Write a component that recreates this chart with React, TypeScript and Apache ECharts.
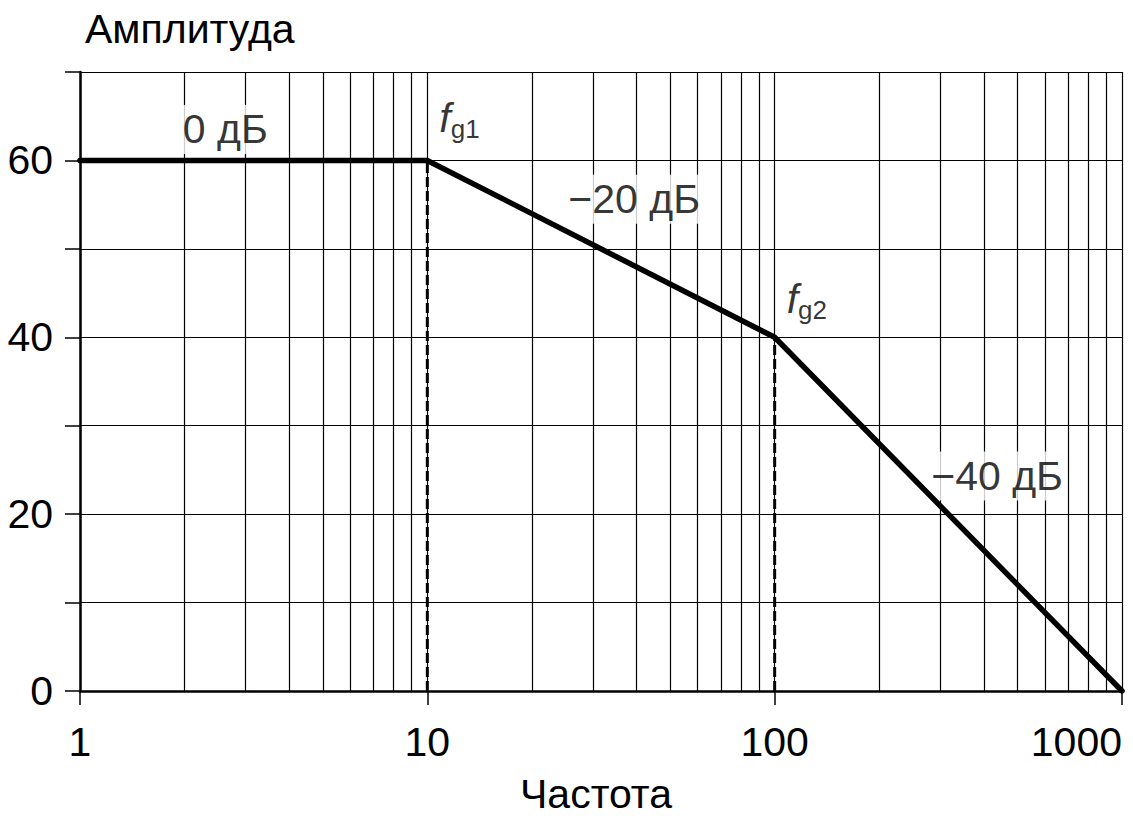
import React, { useEffect, useRef } from 'react';
import * as echarts from 'echarts';

// Bode amplitude plot (asymptotic)
const frequencies = [1, 10, 100, 1000];
const amplitudes = [60, 60, 40, 0];

// minor decade grid lines
const minorGrid = [2, 3, 4, 5, 6, 7, 8, 9, 20, 30, 40, 50, 60, 70, 80, 90, 200, 300, 400, 500, 600, 700, 800, 900];

// y tick labels shown
const yLabelValues = [0, 20, 40, 60];

// slope annotations
const slopeLabels = ['0 дБ', '−20 дБ', '−40 дБ'];
const slopeLabelFreq = [2.62, 39.4, 437];
const slopeLabelAmp = [63.5, 55.6, 24.3];

// corner frequencies
const cornerNames = ['g1', 'g2'];
const cornerFreq = [10, 100];
const cornerAmp = [60, 40];

const yAxisTitle = 'Амплитуда';
const xAxisTitle = 'Частота';

export default function App() {
  const ref = useRef<HTMLDivElement>(null);
  useEffect(() => {
    const chart = echarts.init(ref.current!, null, { renderer: 'svg' });
    const font = "'Liberation Sans', Arial, Helvetica, sans-serif";
    const black = '#000';
    const fs = 41;
    chart.setOption({
      animation: false,
      backgroundColor: '#fff',
      grid: { left: 80, right: 11, top: 72, bottom: 125, containLabel: false },
      xAxis: {
        type: 'log',
        logBase: 10,
        min: 1,
        max: 1000,
        axisLine: { show: true, lineStyle: { color: black, width: 2.5 } },
        axisTick: { show: true, length: 14, lineStyle: { color: black, width: 1.5 } },
        axisLabel: {
          color: black,
          fontSize: fs,
          fontFamily: font,
          margin: 30,
          alignMaxLabel: 'right',
          formatter: (v: number) => String(Math.round(v)),
        },
        splitLine: { show: true, lineStyle: { color: black, width: 1.2 } },
      },
      yAxis: {
        type: 'value',
        min: 0,
        max: 70,
        interval: 10,
        axisLine: { show: true, lineStyle: { color: black, width: 2.5 } },
        axisTick: { show: true, length: 15, lineStyle: { color: black, width: 1.5 } },
        axisLabel: {
          color: black,
          fontSize: fs,
          fontFamily: font,
          margin: 27,
          formatter: (v: number) => (yLabelValues.includes(v) ? String(v) : ''),
        },
        splitLine: { show: true, lineStyle: { color: black, width: 1.2 } },
      },
      graphic: [
        {
          type: 'text',
          x: 85,
          y: 29,
          style: { text: yAxisTitle, fontSize: fs, fontFamily: font, fill: black, align: 'left', verticalAlign: 'middle' },
        },
        {
          type: 'text',
          x: 596,
          y: 794,
          style: { text: xAxisTitle, fontSize: fs, fontFamily: font, fill: black, align: 'center', verticalAlign: 'middle' },
        },
      ],
      series: [
        {
          type: 'line',
          data: [[1, 0]],
          symbol: 'none',
          lineStyle: { opacity: 0 },
          z: 1,
          silent: true,
          markLine: {
            silent: true,
            symbol: ['none', 'none'],
            label: { show: false },
            lineStyle: { color: black, width: 1.2, type: 'solid' },
            data: minorGrid.map((v) => ({ xAxis: v })),
          },
        },
        ...cornerFreq.map((f, i) => ({
          type: 'line',
          data: [[f, 0], [f, cornerAmp[i]]],
          symbol: 'none',
          z: 3,
          lineStyle: { color: black, width: 3, type: [10, 4] },
        })),
        {
          type: 'scatter',
          symbolSize: 0,
          z: 5,
          data: slopeLabels.map((t, i) => ({ name: t, value: [slopeLabelFreq[i], slopeLabelAmp[i]] })),
          label: {
            show: true,
            position: 'inside',
            formatter: (p: any) => p.name,
            color: black,
            textBorderWidth: 0,
            fontSize: fs,
            fontFamily: font,
            backgroundColor: '#fff',
            padding: [4, 3],
          },
        },
        {
          type: 'scatter',
          symbolSize: 0,
          z: 5,
          data: cornerNames.map((n, i) => ({
            name: n,
            value: [cornerFreq[i], cornerAmp[i]],
            label: { position: i === 0 ? [12, -18] : [12, -14] },
          })),
          label: {
            show: true,
            align: 'left',
            verticalAlign: 'bottom',
            formatter: (p: any) => '{f|f}{s|' + p.name + '}',
            rich: {
              f: { fontSize: fs, fontStyle: 'italic', fontFamily: font, color: black, lineHeight: 48 },
              s: { fontSize: 26, fontFamily: font, color: black, lineHeight: 18, verticalAlign: 'bottom' },
            },
          },
        },
        {
          type: 'line',
          data: frequencies.map((f, i) => [f, amplitudes[i]]),
          symbol: 'none',
          z: 8,
          lineStyle: { color: black, width: 5.5, cap: 'round', join: 'miter' },
        },
      ],
    });
    return () => chart.dispose();
  }, []);
  return <div ref={ref} style={{ position: 'absolute', left: 0, top: 0, width: 1133, height: 816 }} />;
}
